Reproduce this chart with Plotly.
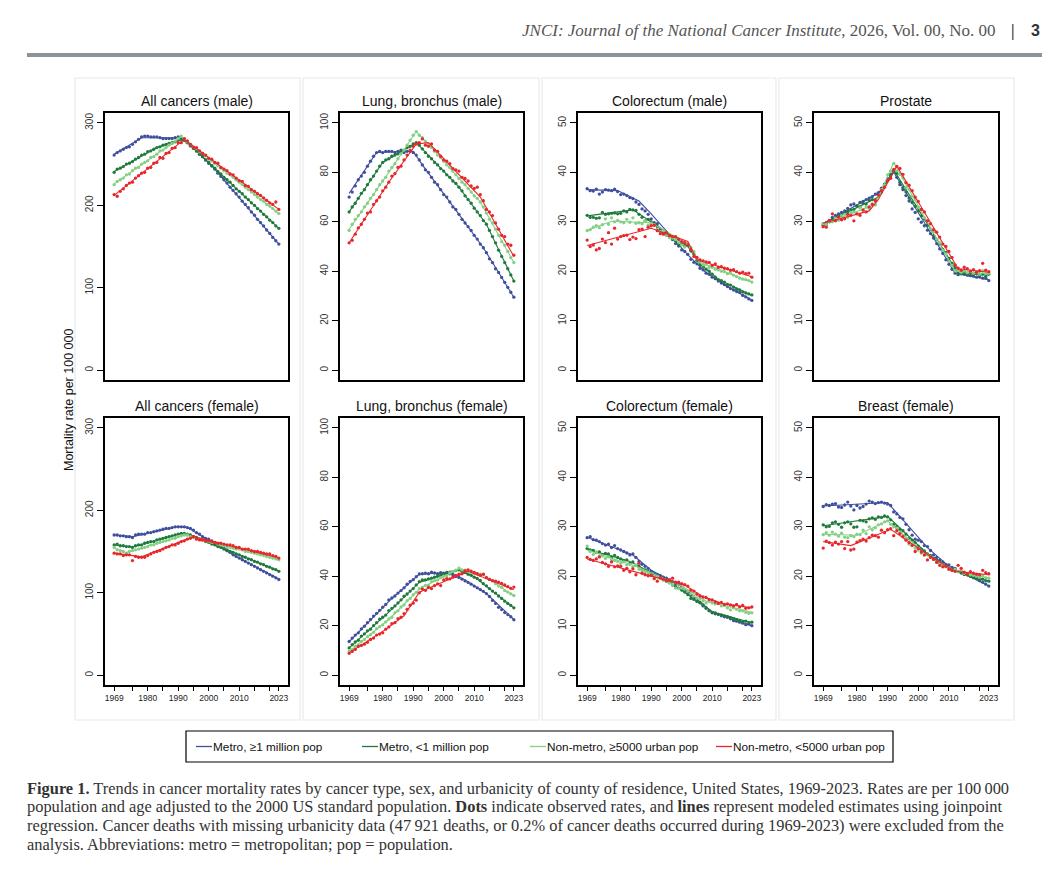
import plotly.graph_objects as go

W, H = 1064, 876
years = list(range(1969, 2024))

groups = ["Metro, ≥1 million pop", "Metro, <1 million pop",
          "Non-metro, ≥5000 urban pop", "Non-metro, <5000 urban pop"]
colors = ["#3f4f9e", "#1f7a3c", "#84d084", "#e8262b"]

titles = ["All cancers (male)", "Lung, bronchus (male)", "Colorectum (male)", "Prostate",
          "All cancers (female)", "Lung, bronchus (female)", "Colorectum (female)", "Breast (female)"]
ytops = [300, 100, 50, 50, 300, 100, 50, 50]
ysteps = [100, 20, 10, 10, 100, 20, 10, 10]

# observed rates per 100 000, 1969..2023 (dots)
allm_blue = [261, 264, 266, 268, 270, 271, 274, 277, 280, 283,
             284, 284, 283, 283, 283, 282, 281, 281, 281, 281,
             282, 283, 281, 279, 276, 273, 270, 266, 262, 259,
             255, 251, 248, 244, 239, 235, 231, 227, 222, 218,
             214, 210, 205, 201, 197, 192, 188, 183, 179, 175,
             170, 166, 161, 157, 153]
allm_dkgreen = [240, 244, 245, 247, 250, 251, 253, 256, 258, 261,
                262, 265, 266, 268, 270, 271, 273, 274, 275, 276,
                277, 279, 280, 279, 276, 272, 269, 266, 262, 259,
                255, 252, 248, 245, 241, 238, 234, 231, 228, 224,
                220, 217, 214, 210, 207, 203, 200, 196, 193, 189,
                186, 182, 179, 175, 172]
allm_ltgreen = [225, 229, 231, 233, 237, 238, 242, 245, 246, 250,
                252, 254, 258, 259, 262, 266, 267, 270, 273, 275,
                278, 281, 284, 281, 277, 274, 271, 269, 265, 263,
                260, 256, 254, 251, 248, 245, 242, 239, 237, 234,
                231, 228, 225, 222, 219, 216, 213, 210, 207, 205,
                201, 199, 196, 193, 190]
allm_red = [213, 211, 217, 220, 224, 227, 228, 233, 236, 239,
            240, 245, 246, 251, 252, 258, 257, 263, 264, 269,
            270, 276, 276, 281, 278, 274, 270, 270, 266, 263,
            261, 257, 256, 252, 251, 246, 244, 242, 238, 237,
            233, 230, 229, 224, 223, 219, 217, 214, 212, 209,
            206, 203, 201, 204, 195]

lungm_blue = [70.0, 72.0, 74.5, 77.0, 78.5, 80.0, 82.5, 84.5, 86.5, 88.0,
              88.5, 88.0, 88.5, 88.5, 88.5, 88.0, 88.5, 89.0, 88.0, 88.5,
              88.5, 88.0, 87.0, 85.0, 83.0, 81.0, 80.0, 78.0, 76.0, 75.0,
              73.0, 71.0, 70.0, 68.0, 66.0, 65.0, 63.0, 61.0, 59.5, 58.0,
              56.5, 54.5, 53.0, 51.0, 49.5, 47.5, 45.0, 43.5, 41.0, 39.5,
              37.5, 35.5, 33.5, 31.5, 29.5]
lungm_dkgreen = [64.0, 66.0, 67.5, 69.5, 71.5, 73.0, 75.0, 77.0, 78.5, 80.5,
                 82.5, 84.0, 85.0, 85.5, 86.5, 87.0, 87.5, 88.5, 89.0, 90.0,
                 90.5, 91.5, 92.0, 91.0, 89.5, 88.0, 86.5, 85.5, 84.0, 83.0,
                 81.5, 80.5, 79.0, 78.0, 76.5, 75.5, 74.0, 72.5, 70.5, 69.0,
                 67.5, 65.5, 64.0, 62.5, 60.5, 59.0, 56.5, 54.0, 51.5, 48.5,
                 46.0, 43.5, 41.0, 38.5, 36.0]
lungm_ltgreen = [56.5, 59.0, 61.0, 62.5, 64.0, 66.0, 67.5, 69.5, 71.0, 73.0,
                 75.0, 76.5, 78.0, 80.5, 82.0, 83.5, 85.5, 87.5, 89.0, 91.0,
                 93.0, 95.0, 96.5, 95.0, 94.0, 92.5, 91.0, 90.0, 88.5, 87.0,
                 86.0, 84.5, 83.0, 82.0, 80.5, 79.0, 77.5, 76.0, 75.0, 73.5,
                 72.0, 70.5, 69.5, 68.0, 66.0, 63.5, 61.0, 59.5, 57.0, 54.5,
                 52.0, 50.5, 48.0, 45.5, 43.5]
lungm_red = [51.5, 52.5, 55.0, 57.5, 59.0, 61.0, 63.5, 64.0, 67.0, 68.5,
             70.0, 72.5, 74.0, 76.0, 78.5, 79.5, 82.0, 82.5, 85.0, 87.0,
             89.0, 90.5, 91.5, 92.0, 93.5, 91.0, 90.5, 91.5, 89.0, 88.5,
             86.5, 85.0, 84.5, 83.5, 81.5, 81.0, 80.5, 78.0, 77.5, 76.5,
             74.5, 73.5, 74.0, 71.0, 68.5, 65.0, 64.0, 62.5, 59.5, 57.0,
             54.5, 54.0, 51.0, 50.5, 46.5]

crcm_blue = [36.7, 36.3, 36.2, 36.6, 35.6, 36.0, 36.5, 36.4, 36.3, 36.6,
             36.1, 35.5, 35.6, 35.3, 34.9, 34.7, 34.0, 33.5, 32.6, 32.2,
             31.5, 30.6, 29.8, 29.6, 28.5, 28.0, 27.5, 27.1, 26.4, 25.6,
             25.1, 24.3, 24.0, 23.4, 22.4, 21.8, 21.5, 20.6, 20.3, 19.6,
             19.4, 18.8, 18.5, 18.0, 17.6, 17.3, 16.9, 16.5, 16.2, 15.9,
             15.7, 15.1, 14.8, 14.4, 14.1]
crcm_dkgreen = [31.3, 30.9, 30.9, 30.7, 30.8, 31.9, 31.5, 31.6, 31.7, 31.8,
                31.6, 31.7, 32.2, 32.0, 32.5, 32.4, 32.3, 31.5, 30.9, 30.2,
                30.5, 30.0, 29.4, 29.0, 28.0, 27.8, 27.3, 27.0, 26.5, 26.1,
                25.3, 25.5, 25.1, 25.2, 24.1, 23.5, 22.2, 21.3, 21.0, 20.4,
                20.0, 19.4, 18.8, 18.3, 18.1, 17.8, 17.3, 17.2, 16.8, 16.4,
                16.2, 15.8, 15.6, 15.4, 15.2]
crcm_ltgreen = [28.2, 28.4, 28.9, 29.2, 28.8, 29.4, 30.6, 29.5, 30.8, 30.0,
                30.3, 30.0, 29.8, 30.5, 29.9, 30.8, 29.7, 29.8, 29.6, 30.2,
                29.3, 29.7, 29.4, 28.5, 28.0, 28.2, 27.3, 26.8, 26.7, 26.4,
                25.9, 25.3, 24.9, 25.6, 24.8, 24.0, 22.5, 21.9, 21.3, 21.4,
                20.8, 20.8, 20.4, 20.3, 20.0, 19.9, 19.5, 19.6, 19.2, 18.9,
                18.6, 18.4, 18.3, 18.1, 17.8]
crcm_red = [26.3, 25.0, 25.3, 24.3, 24.6, 26.5, 25.8, 27.8, 25.5, 28.7,
            26.5, 27.0, 27.2, 27.3, 26.4, 26.9, 26.6, 28.4, 28.5, 27.0,
            28.9, 29.2, 29.3, 28.2, 27.6, 27.5, 27.8, 27.2, 27.0, 27.0,
            26.5, 26.0, 25.8, 25.3, 24.4, 23.0, 22.8, 22.3, 22.1, 21.9,
            21.8, 21.2, 21.5, 20.8, 20.9, 20.6, 20.5, 20.2, 20.3, 19.9,
            19.6, 19.8, 19.5, 19.6, 18.8]

pros_blue = [29.3, 29.8, 30.2, 30.9, 31.3, 31.6, 31.9, 32.2, 32.7, 33.4,
             33.6, 33.2, 33.9, 34.1, 34.5, 34.8, 35.1, 35.6, 35.9, 36.8,
             37.6, 38.7, 39.6, 40.3, 39.0, 37.5, 36.5, 35.3, 34.2, 32.6,
             31.9, 30.6, 29.9, 29.2, 28.3, 27.6, 26.7, 25.6, 24.5, 23.6,
             22.3, 21.4, 20.4, 19.6, 19.3, 19.5, 19.4, 19.2, 19.1, 19.0,
             18.8, 18.9, 18.6, 18.6, 18.1]
pros_dkgreen = [29.6, 29.4, 30.0, 30.6, 30.8, 31.3, 31.1, 31.8, 32.1, 32.4,
                32.5, 33.2, 33.0, 33.7, 33.6, 34.3, 34.5, 34.2, 35.3, 36.0,
                37.5, 38.4, 39.3, 40.2, 39.8, 38.0, 36.9, 36.0, 34.8, 33.9,
                33.1, 32.2, 31.2, 30.6, 29.3, 28.5, 27.2, 26.4, 25.5, 24.4,
                23.8, 22.6, 21.6, 20.7, 19.6, 19.5, 19.8, 19.4, 19.6, 19.3,
                19.5, 19.2, 19.4, 19.0, 19.4]
pros_ltgreen = [29.6, 29.4, 30.2, 30.0, 30.7, 30.3, 31.2, 31.5, 30.9, 31.9,
                32.0, 31.6, 32.8, 32.3, 33.0, 32.7, 33.6, 33.4, 35.2, 36.5,
                37.4, 39.5, 40.3, 41.8, 40.3, 39.6, 38.9, 37.0, 36.6, 35.2,
                34.5, 33.0, 32.4, 30.8, 30.2, 28.6, 28.0, 26.5, 25.8, 24.2,
                23.5, 22.0, 21.2, 20.1, 20.3, 19.8, 20.2, 19.7, 19.9, 19.6,
                19.8, 19.4, 20.1, 19.5, 19.6]
pros_red = [29.0, 28.9, 30.3, 31.6, 30.2, 31.0, 30.4, 30.6, 31.5, 31.3,
            30.2, 31.6, 31.3, 32.4, 32.0, 33.0, 33.5, 34.3, 35.4, 36.3,
            37.0, 38.3, 38.8, 40.6, 41.2, 40.8, 39.6, 37.9, 37.4, 36.3,
            35.0, 34.1, 32.5, 32.0, 30.2, 29.6, 28.4, 27.9, 26.9, 25.5,
            25.0, 24.0, 22.8, 21.3, 20.6, 20.2, 20.8, 20.5, 20.0, 20.3,
            19.8, 20.1, 21.6, 20.2, 19.9]

allf_blue = [170, 170, 169, 169, 168, 168, 167, 170, 171, 171,
             171, 173, 173, 174, 175, 176, 177, 178, 178, 179,
             180, 180, 180, 180, 179, 178, 176, 173, 171, 168,
             166, 165, 163, 160, 158, 156, 154, 151, 149, 146,
             144, 142, 140, 138, 136, 134, 132, 130, 128, 126,
             124, 122, 120, 118, 116]
allf_dkgreen = [158, 159, 157, 157, 156, 156, 155, 157, 158, 158,
                160, 161, 162, 162, 164, 165, 166, 167, 168, 169,
                170, 171, 172, 172, 171, 170, 168, 167, 165, 164,
                162, 161, 159, 158, 156, 155, 153, 152, 150, 149,
                147, 146, 144, 143, 141, 140, 138, 137, 135, 134,
                132, 131, 129, 128, 126]
allf_ltgreen = [155, 152, 151, 150, 148, 150, 151, 152, 153, 154,
                155, 156, 158, 158, 160, 161, 162, 163, 164, 166,
                166, 168, 169, 170, 170, 168, 167, 166, 165, 164,
                163, 162, 161, 161, 159, 158, 157, 156, 155, 154,
                153, 153, 152, 150, 150, 149, 148, 147, 146, 145,
                144, 143, 142, 141, 140]
allf_red = [148, 147, 147, 145, 146, 146, 139, 144, 143, 143,
            143, 145, 147, 149, 150, 151, 153, 155, 156, 158,
            158, 160, 162, 163, 165, 166, 168, 165, 164, 164,
            163, 163, 162, 161, 160, 160, 159, 158, 158, 157,
            155, 155, 153, 153, 153, 151, 150, 150, 149, 148,
            147, 147, 145, 144, 142]

lungf_blue = [13.6, 15.0, 16.2, 17.1, 18.7, 19.8, 21.2, 22.5, 23.9, 25.0,
              26.2, 27.5, 28.6, 30.4, 31.2, 32.0, 33.2, 34.2, 35.3, 36.8,
              37.9, 38.6, 39.8, 40.9, 41.0, 41.2, 41.0, 41.6, 41.3, 41.0,
              41.4, 41.2, 41.5, 41.0, 40.6, 39.9, 39.5, 38.8, 38.1, 37.5,
              36.8, 36.0, 35.3, 34.6, 33.9, 33.0, 31.8, 30.2, 29.0, 27.4,
              26.5, 25.3, 24.5, 23.6, 22.4]
lungf_dkgreen = [11.0, 12.3, 13.4, 14.1, 15.8, 16.7, 17.9, 18.6, 20.0, 21.2,
                 22.6, 23.4, 24.3, 26.1, 27.0, 28.0, 29.2, 30.4, 31.9, 32.8,
                 34.0, 35.0, 36.5, 37.8, 38.5, 38.5, 38.9, 39.2, 39.6, 40.0,
                 40.5, 40.8, 41.2, 41.6, 41.8, 42.3, 42.6, 42.0, 41.5, 40.8,
                 40.4, 39.6, 39.1, 38.3, 37.0, 36.1, 35.0, 34.0, 33.2, 32.0,
                 31.0, 29.9, 29.0, 28.2, 27.2]
lungf_ltgreen = [9.6, 10.3, 11.7, 12.2, 13.6, 14.4, 15.6, 16.4, 17.3, 18.8,
                 19.6, 20.3, 21.5, 22.7, 23.4, 25.2, 26.0, 27.6, 28.4, 30.1,
                 31.0, 32.5, 33.5, 35.0, 35.6, 36.3, 36.4, 37.8, 38.2, 38.5,
                 39.4, 40.0, 40.2, 41.3, 42.0, 42.5, 43.3, 42.6, 42.5, 41.9,
                 41.8, 41.2, 41.0, 40.8, 40.7, 39.5, 38.8, 38.2, 37.0, 36.0,
                 35.5, 34.2, 33.6, 32.9, 32.2]
lungf_red = [8.8, 9.6, 10.4, 11.6, 12.0, 12.5, 13.3, 14.4, 15.0, 16.2,
             16.6, 17.1, 18.6, 19.5, 20.8, 21.2, 22.8, 23.4, 24.9, 26.6,
             28.3, 29.1, 30.3, 33.3, 34.8, 34.3, 35.5, 35.0, 36.2, 36.9,
             36.2, 38.5, 39.0, 38.9, 39.6, 40.3, 40.8, 41.0, 42.2, 42.6,
             42.1, 41.5, 41.0, 40.4, 40.8, 39.4, 38.7, 38.2, 38.0, 37.6,
             37.1, 36.5, 35.8, 35.1, 35.6]

crcf_blue = [27.8, 28.0, 27.4, 27.3, 27.0, 26.6, 26.3, 26.5, 25.8, 26.2,
             25.6, 25.3, 25.0, 24.7, 24.3, 24.5, 23.8, 23.0, 22.4, 22.0,
             21.6, 21.0, 20.5, 20.3, 20.1, 19.8, 19.6, 19.2, 18.9, 18.5,
             18.4, 17.8, 17.2, 16.9, 16.2, 15.6, 15.0, 14.7, 14.0, 13.5,
             13.0, 12.6, 12.4, 12.3, 12.0, 11.8, 11.7, 11.4, 11.0, 10.9,
             10.7, 10.5, 10.2, 10.3, 10.0]
crcf_dkgreen = [25.6, 25.3, 25.2, 24.8, 24.9, 24.3, 24.6, 24.5, 23.9, 24.2,
                23.8, 23.5, 23.2, 23.3, 22.6, 22.9, 22.2, 22.0, 21.5, 21.3,
                21.0, 20.6, 20.2, 20.1, 19.7, 19.4, 19.0, 18.8, 18.2, 17.9,
                17.6, 17.2, 16.8, 16.3, 15.5, 15.3, 14.9, 14.6, 14.2, 13.6,
                13.1, 12.7, 12.6, 12.3, 12.2, 12.0, 11.8, 11.6, 11.4, 11.2,
                11.0, 10.8, 10.9, 10.6, 10.7]
crcf_ltgreen = [26.1, 25.0, 24.4, 24.9, 24.0, 24.1, 23.6, 23.9, 23.4, 23.2,
                23.0, 22.6, 22.9, 22.3, 22.4, 21.9, 22.3, 21.4, 21.1, 20.9,
                20.7, 20.3, 20.0, 19.9, 19.5, 19.2, 19.0, 18.6, 18.3, 17.6,
                17.5, 17.6, 17.4, 17.0, 16.5, 16.0, 15.6, 15.4, 15.0, 14.6,
                14.9, 14.6, 14.4, 14.5, 14.0, 14.1, 13.6, 13.2, 13.6, 13.3,
                13.0, 13.0, 12.7, 12.5, 12.6]
crcf_red = [23.8, 23.4, 23.2, 23.5, 23.9, 22.8, 22.5, 22.0, 22.9, 21.9,
            22.1, 22.0, 21.2, 21.6, 20.9, 21.5, 20.3, 22.6, 20.6, 20.3,
            20.1, 20.2, 19.5, 19.0, 19.7, 19.4, 19.1, 19.3, 19.6, 18.8,
            18.8, 18.5, 18.3, 18.0, 17.2, 17.0, 16.4, 16.0, 15.8, 15.7,
            15.3, 15.2, 14.8, 14.5, 14.7, 14.3, 14.4, 14.2, 14.0, 14.3,
            13.8, 14.1, 13.5, 13.6, 13.8]

brst_blue = [34.1, 34.5, 34.3, 34.6, 34.7, 34.0, 33.9, 34.4, 35.0, 34.2,
             33.4, 34.3, 33.8, 34.1, 34.6, 35.2, 35.0, 34.7, 34.9, 35.0,
             34.8, 34.6, 34.3, 33.0, 32.6, 31.9, 31.6, 30.5, 29.4, 28.3,
             27.5, 27.3, 27.0, 26.2, 26.0, 25.2, 24.3, 23.8, 23.3, 22.9,
             22.4, 22.3, 21.8, 21.6, 21.0, 20.7, 20.4, 20.3, 20.0, 19.7,
             19.5, 19.1, 18.8, 18.4, 18.0]
brst_dkgreen = [30.4, 30.0, 30.1, 30.8, 31.0, 30.5, 29.9, 30.8, 31.0, 30.6,
                29.9, 30.0, 31.3, 31.2, 31.0, 31.6, 31.8, 31.5, 32.0, 31.9,
                32.2, 32.0, 31.4, 30.5, 30.1, 29.5, 29.2, 28.5, 27.6, 27.3,
                26.8, 26.1, 25.5, 25.1, 24.5, 24.2, 23.6, 23.2, 22.8, 22.5,
                22.0, 21.7, 21.3, 21.2, 21.0, 20.7, 20.4, 20.3, 20.0, 19.8,
                19.6, 19.5, 19.4, 19.1, 19.0]
brst_ltgreen = [28.4, 28.8, 28.3, 28.9, 28.5, 28.1, 28.7, 27.9, 27.8, 28.2,
                28.0, 28.5, 28.4, 29.3, 28.6, 30.0, 29.4, 29.8, 30.4, 30.6,
                31.0, 31.2, 30.5, 30.0, 29.7, 28.8, 28.2, 27.6, 26.5, 26.4,
                25.7, 25.3, 24.7, 24.3, 24.3, 23.9, 23.4, 23.0, 22.6, 22.3,
                21.9, 21.7, 21.2, 21.4, 20.9, 21.2, 20.6, 20.6, 20.3, 20.2,
                20.0, 19.8, 20.1, 19.7, 19.6]
brst_red = [25.7, 27.1, 26.8, 26.3, 26.9, 26.5, 27.0, 25.6, 27.0, 25.3,
            25.5, 26.9, 27.2, 27.5, 27.1, 27.8, 28.3, 28.2, 27.9, 29.3,
            28.8, 29.4, 29.6, 28.2, 29.2, 28.6, 28.0, 27.3, 26.8, 26.2,
            25.0, 25.6, 24.9, 24.3, 23.3, 23.8, 23.4, 22.8, 22.2, 21.9,
            22.0, 21.4, 21.2, 21.0, 22.2, 21.6, 20.8, 20.5, 20.9, 20.6,
            20.4, 20.3, 21.2, 20.7, 20.5]

# joinpoint model fits: (year, rate) at segment ends
allm_blue_fit = [(1969, 262), (1978, 282), (1991, 282), (1993, 277), (2001, 248), (2012, 201), (2023, 153)]
allm_dkgreen_fit = [(1969, 241), (1983, 270), (1991, 280), (1993, 276), (2023, 172)]
allm_ltgreen_fit = [(1969, 226), (1991, 283), (2023, 190)]
allm_red_fit = [(1969, 212), (1992, 280), (2023, 195)]

lungm_blue_fit = [(1969, 71.5), (1978, 88), (1990, 88.5), (1993, 83), (2005, 63), (2013, 49.5), (2023, 29.5)]
lungm_dkgreen_fit = [(1969, 64), (1980, 84), (1991, 92), (2005, 74), (2014, 59), (2023, 36)]
lungm_ltgreen_fit = [(1969, 57), (1982, 80), (1991, 96.5), (1996, 90), (2012, 68), (2023, 43.5)]
lungm_red_fit = [(1969, 51.5), (1982, 76), (1991, 91.5), (1995, 92), (2012, 70), (2023, 46)]

crcm_blue_fit = [(1969, 36.5), (1979, 36.3), (1986, 34.2), (1990, 31.6), (2002, 23.3), (2008, 19.7), (2015, 16.9), (2023, 14.2)]
crcm_dkgreen_fit = [(1969, 31.2), (1984, 32.4), (1990, 30), (2002, 25), (2006, 21.5), (2012, 18.4), (2023, 15.1)]
crcm_ltgreen_fit = [(1969, 28.3), (1977, 30.1), (1990, 29.8), (2002, 25.5), (2006, 21.8), (2023, 17.8)]
crcm_red_fit = [(1969, 25.2), (1990, 28.7), (2002, 26), (2005, 22.3), (2023, 18.9)]

pros_blue_fit = [(1969, 29.6), (1987, 35.8), (1992, 40), (2012, 19.6), (2023, 18.3)]
pros_dkgreen_fit = [(1969, 29.5), (1987, 35), (1992, 40.5), (2013, 19.6), (2023, 19.3)]
pros_ltgreen_fit = [(1969, 29.5), (1986, 33.5), (1992, 42), (2012, 20), (2023, 19.5)]
pros_red_fit = [(1969, 29.7), (1984, 32.2), (1987, 34.5), (1993, 41.3), (2013, 20.5), (2023, 19.8)]

allf_blue_fit = [(1969, 170), (1975, 168), (1990, 180.5), (1993, 179), (2008, 146), (2023, 116.5)]
allf_dkgreen_fit = [(1969, 158), (1975, 155.5), (1991, 172), (1994, 170), (2023, 126.5)]
allf_ltgreen_fit = [(1969, 154), (1973, 148.5), (1992, 170), (2023, 140)]
allf_red_fit = [(1969, 148), (1978, 143.5), (1995, 168), (2023, 142.5)]

lungf_blue_fit = [(1969, 13.5), (1983, 31), (1992, 40.8), (2002, 41.5), (2007, 38.5), (2014, 33), (2023, 22.5)]
lungf_dkgreen_fit = [(1969, 11), (1982, 25.5), (1992, 37.5), (2005, 42.5), (2010, 39.8), (2023, 27.2)]
lungf_ltgreen_fit = [(1969, 9.5), (1982, 22.5), (1992, 34.8), (2005, 43), (2013, 40.5), (2023, 32)]
lungf_red_fit = [(1969, 9), (1981, 18.5), (1987, 24), (1992, 33.5), (2008, 42), (2023, 34.5)]

crcf_blue_fit = [(1969, 27.9), (1984, 24.3), (1990, 21.2), (2000, 18), (2010, 12.8), (2023, 10)]
crcf_dkgreen_fit = [(1969, 25.5), (1983, 23), (1998, 18), (2010, 12.8), (2023, 10.6)]
crcf_ltgreen_fit = [(1969, 25.3), (1985, 22), (2000, 18), (2008, 15), (2023, 12.7)]
crcf_red_fit = [(1969, 23.5), (1990, 20.1), (2001, 18.2), (2007, 15.8), (2014, 14.4), (2023, 13.6)]

brst_blue_fit = [(1969, 34.2), (1990, 34.9), (2003, 25.8), (2010, 22), (2023, 18)]
brst_dkgreen_fit = [(1969, 30.2), (1990, 32.1), (2003, 24.5), (2011, 21.5), (2023, 19)]
brst_ltgreen_fit = [(1969, 28.5), (1980, 28.3), (1990, 31.2), (2003, 24.2), (2011, 21.4), (2023, 19.6)]
brst_red_fit = [(1969, 27), (1978, 26.2), (1991, 29.5), (2004, 24), (2012, 21), (2023, 20.3)]

obs = [
    [allm_blue, allm_dkgreen, allm_ltgreen, allm_red],
    [lungm_blue, lungm_dkgreen, lungm_ltgreen, lungm_red],
    [crcm_blue, crcm_dkgreen, crcm_ltgreen, crcm_red],
    [pros_blue, pros_dkgreen, pros_ltgreen, pros_red],
    [allf_blue, allf_dkgreen, allf_ltgreen, allf_red],
    [lungf_blue, lungf_dkgreen, lungf_ltgreen, lungf_red],
    [crcf_blue, crcf_dkgreen, crcf_ltgreen, crcf_red],
    [brst_blue, brst_dkgreen, brst_ltgreen, brst_red],
]
fits = [
    [allm_blue_fit, allm_dkgreen_fit, allm_ltgreen_fit, allm_red_fit],
    [lungm_blue_fit, lungm_dkgreen_fit, lungm_ltgreen_fit, lungm_red_fit],
    [crcm_blue_fit, crcm_dkgreen_fit, crcm_ltgreen_fit, crcm_red_fit],
    [pros_blue_fit, pros_dkgreen_fit, pros_ltgreen_fit, pros_red_fit],
    [allf_blue_fit, allf_dkgreen_fit, allf_ltgreen_fit, allf_red_fit],
    [lungf_blue_fit, lungf_dkgreen_fit, lungf_ltgreen_fit, lungf_red_fit],
    [crcf_blue_fit, crcf_dkgreen_fit, crcf_ltgreen_fit, crcf_red_fit],
    [brst_blue_fit, brst_dkgreen_fit, brst_ltgreen_fit, brst_red_fit],
]

xtickvals = [1969, 1975, 1980, 1985, 1990, 1995, 2000, 2005, 2010, 2015, 2020, 2023]
xticktext = ["1969", "", "1980", "", "1990", "", "2000", "", "2010", "", "", "2023"]

for p in obs:
    for s in p:
        assert len(s) == len(years), len(s)

# the page body adds an 8px margin, so positions below are page pixels
OFF = 8


def px(x):
    return (x - OFF) / W


def py(y):
    return 1 - (y - OFF) / H


col_x = [(105, 288), (340, 523), (578, 761), (814, 998)]
row_y = [(113, 380), (418, 685)]

fig = go.Figure()
layout = {}
annotations = []
shapes = []

for i in range(8):
    r, c = divmod(i, 4)
    n = "" if i == 0 else str(i + 1)
    xa, ya = "x" + n, "y" + n
    for k in range(4):
        fig.add_trace(go.Scatter(
            x=years, y=obs[i][k], mode="markers", xaxis=xa, yaxis=ya,
            marker=dict(color=colors[k], size=3.3), showlegend=False, name=groups[k]))
        fig.add_trace(go.Scatter(
            x=[p[0] for p in fits[i][k]], y=[p[1] for p in fits[i][k]],
            mode="lines", xaxis=xa, yaxis=ya,
            line=dict(color=colors[k], width=1.1), showlegend=False, name=groups[k]))

    x0, x1 = col_x[c]
    y0, y1 = row_y[r]
    top = ytops[i]
    layout["xaxis" + n] = dict(
        domain=[px(x0), px(x1)], anchor=ya, range=[1966, 2026],
        showline=True, mirror=True, linecolor="black", linewidth=1.8,
        showgrid=False, zeroline=False,
        tickvals=xtickvals, ticktext=xticktext,
        ticks="outside" if r == 1 else "", ticklen=4, tickwidth=1, tickcolor="black",
        showticklabels=(r == 1),
        tickfont=dict(family="Liberation Sans", size=8.5, color="#222"))
    layout["yaxis" + n] = dict(
        domain=[py(y1), py(y0)], anchor=xa, range=[-0.04 * top, 1.04 * top],
        showline=True, mirror=True, linecolor="black", linewidth=1.8,
        showgrid=False, zeroline=False,
        tickvals=list(range(0, top + 1, ysteps[i])),
        ticks="outside", ticklen=6, tickwidth=1, tickcolor="black", tickangle=-90,
        tickfont=dict(family="Liberation Sans", size=10, color="#333"))
    annotations.append(dict(
        x=px((x0 + x1) / 2), y=py(y0 - 12), xref="paper", yref="paper",
        text=titles[i], showarrow=False, xanchor="center", yanchor="middle",
        font=dict(family="Liberation Sans", size=14, color="#111")))

# light column frames
for a, b in [(75, 300), (303, 539), (542, 776), (779, 1014)]:
    shapes.append(dict(type="rect", xref="paper", yref="paper",
                       x0=px(a), x1=px(b), y0=py(720), y1=py(78),
                       line=dict(color="#e6e9ec", width=1.2), layer="below"))

# y title
annotations.append(dict(x=px(60), y=py(400), xref="paper", yref="paper",
                        text="Mortality rate per 100 000", textangle=-90, showarrow=False,
                        font=dict(family="Liberation Sans", size=12.5, color="#111")))

# legend box
shapes.append(dict(type="rect", xref="paper", yref="paper",
                   x0=px(186), x1=px(893), y0=py(762), y1=py(731),
                   line=dict(color="black", width=1.2)))
leg_x = [196, 362, 530, 716]
for k in range(4):
    shapes.append(dict(type="line", xref="paper", yref="paper",
                       x0=px(leg_x[k]), x1=px(leg_x[k] + 16), y0=py(746.5), y1=py(746.5),
                       line=dict(color=colors[k], width=1.3)))
    annotations.append(dict(x=px(leg_x[k] + 15), y=py(746.5), xref="paper", yref="paper",
                            text=groups[k], showarrow=False, xanchor="left", yanchor="middle",
                            font=dict(family="Liberation Sans", size=11.8, color="#111")))

# page header
shapes.append(dict(type="line", xref="paper", yref="paper",
                   x0=px(27), x1=px(1042), y0=py(55), y1=py(55),
                   line=dict(color="#8e939a", width=4)))
annotations.append(dict(x=px(997), y=py(31), xref="paper", yref="paper",
                        text="<i>JNCI: Journal of the National Cancer Institute</i>, 2026, Vol. 00, No. 00",
                        showarrow=False, xanchor="right", yanchor="middle",
                        font=dict(family="Liberation Serif", size=17, color="#555")))
annotations.append(dict(x=px(1013), y=py(31), xref="paper", yref="paper", text="<b>|</b>",
                        showarrow=False, xanchor="center", yanchor="middle",
                        font=dict(family="Liberation Serif", size=16, color="#333")))
annotations.append(dict(x=px(1035), y=py(31), xref="paper", yref="paper", text="<b>3</b>",
                        showarrow=False, xanchor="center", yanchor="middle",
                        font=dict(family="Liberation Sans", size=16, color="#333")))

# caption
caption = [
    "<b>Figure 1.</b> Trends in cancer mortality rates by cancer type, sex, and urbanicity of county of residence, United States, 1969-2023. Rates are per 100\u202f000",
    "population and age adjusted to the 2000 US standard population. <b>Dots</b> indicate observed rates, and <b>lines</b> represent modeled estimates using joinpoint",
    "regression. Cancer deaths with missing urbanicity data (47\u202f921 deaths, or 0.2% of cancer deaths occurred during 1969-2023) were excluded from the",
    "analysis. Abbreviations: metro = metropolitan; pop = population.",
]
for j, line in enumerate(caption):
    annotations.append(dict(x=px(25), y=py(788 + j * 18.7), xref="paper", yref="paper",
                            text=line, showarrow=False, xanchor="left", yanchor="middle",
                            font=dict(family="Liberation Serif", size=16.4, color="#333")))

fig.update_layout(
    width=W, height=H, margin=dict(l=0, r=0, t=0, b=0),
    paper_bgcolor="white", plot_bgcolor="white",
    showlegend=False, annotations=annotations, shapes=shapes, **layout)

fig.write_html("out.html")
